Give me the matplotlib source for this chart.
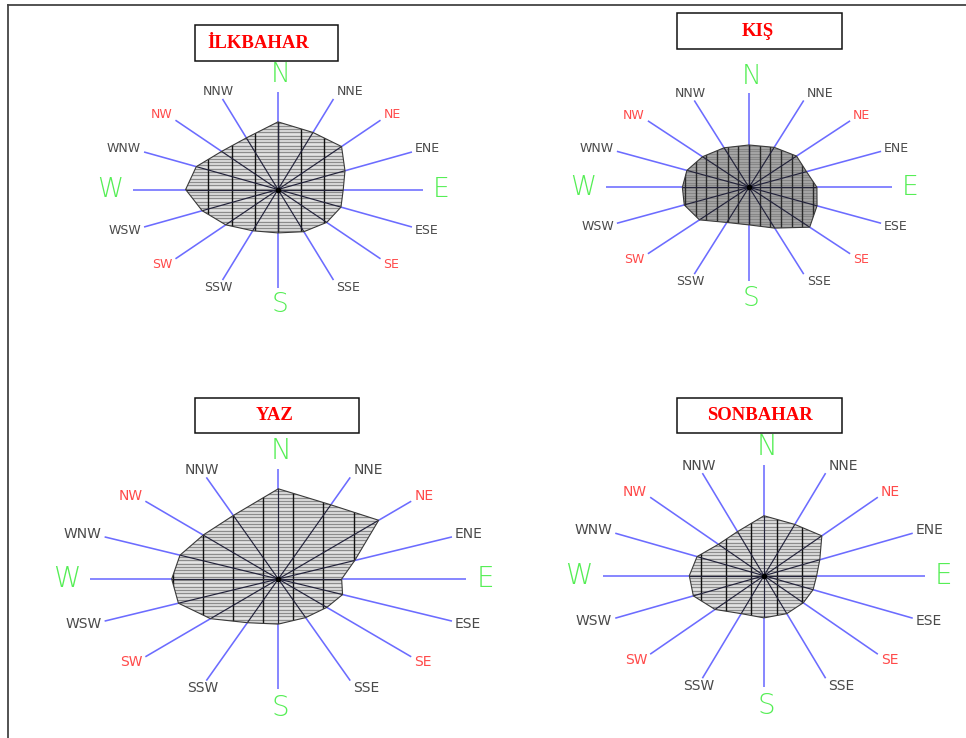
import numpy as np
import matplotlib.pyplot as plt
from matplotlib.patches import Polygon, Rectangle
from matplotlib.lines import Line2D

# 16 compass directions, clockwise from north
directions = ['N', 'NNE', 'NE', 'ENE', 'E', 'ESE', 'SE', 'SSE',
              'S', 'SSW', 'SW', 'WSW', 'W', 'WNW', 'NW', 'NNW']
seasons = ['İLKBAHAR', 'KIŞ', 'YAZ', 'SONBAHAR']

# relative wind frequency per direction (fraction of spoke length)
ilkbahar = [0.69, 0.63, 0.62, 0.50, 0.45, 0.47, 0.475, 0.466,
            0.443, 0.456, 0.51, 0.566, 0.637, 0.61, 0.55, 0.57]
kis = [0.45, 0.46, 0.47, 0.435, 0.475, 0.515, 0.60, 0.47,
       0.40, 0.405, 0.49, 0.49, 0.466, 0.47, 0.46, 0.455]
yaz = [0.82, 0.73, 0.755, 0.44, 0.337, 0.37, 0.365, 0.38,
       0.41, 0.43, 0.51, 0.575, 0.567, 0.566, 0.565, 0.625]
sonbahar = [0.54, 0.50, 0.508, 0.375, 0.327, 0.33, 0.345, 0.37,
            0.38, 0.37, 0.43, 0.475, 0.464, 0.45, 0.40, 0.43]

W, H = 966, 738
fig = plt.figure(figsize=(W / 100, H / 100), dpi=100)
fig.patch.set_facecolor('white')

cardinal = {'N', 'E', 'S', 'W'}
intercard = {'NE', 'SE', 'SW', 'NW'}

# panel layout in pixels: centre x, centre y (from top), x-scale, y-scale
panels = [
    dict(cx=278, cy=189.5, a=145, b=98, vstep=0.16, voff=0.0, hpx=3.3,
         face='#e4e4e4', hcol='#8c8c8c', hlw=0.95, vcol='#111111',
         small=9, big=19, box=(195, 25, 338, 61), tpos=(258, 43.5)),
    dict(cx=749, cy=187.3, a=143, b=94, vstep=0.0746, voff=0.0, hpx=2.6,
         face='#a9a9a9', hcol='#878787', hlw=0.9, vcol='#2a2a2a',
         small=9, big=19, box=(677, 13, 842, 49), tpos=(758, 31)),
    dict(cx=278.3, cy=579, a=188, b=110, vstep=0.16, voff=0.08, hpx=3.3,
         face='#e4e4e4', hcol='#8c8c8c', hlw=0.95, vcol='#111111',
         small=10, big=20, box=(195, 398, 359, 433), tpos=(275, 415)),
    dict(cx=764, cy=575.7, a=161, b=111, vstep=0.157, voff=0.0785, hpx=3.2,
         face='#e4e4e4', hcol='#8c8c8c', hlw=0.95, vcol='#111111',
         small=10, big=20, box=(677, 398, 842, 433), tpos=(760, 415)),
]
data = [ilkbahar, kis, yaz, sonbahar]

theta = np.deg2rad(np.arange(16) * 22.5)
ux = np.sin(theta)
uy = np.cos(theta)
L = 1.5


def draw_rose(p, radii, title):
    left = p['cx'] - L * p['a']
    bottom = (H - p['cy']) - L * p['b']
    ax = fig.add_axes([left / W, bottom / H, 2 * L * p['a'] / W, 2 * L * p['b'] / H])
    ax.set_xlim(-L, L)
    ax.set_ylim(-L, L)
    ax.axis('off')
    ax.patch.set_alpha(0)

    # blue spokes
    for i in range(16):
        ax.plot([0, ux[i]], [0, uy[i]], color='#6c6cff', lw=1.15, zorder=1,
                solid_capstyle='butt')

    r = np.array(radii)
    pts = np.column_stack([r * ux, r * uy])
    poly = Polygon(pts, closed=True, facecolor=p['face'], edgecolor='none', zorder=2)
    ax.add_patch(poly)

    # horizontal hatch lines
    hstep = p['hpx'] / p['b']
    ys = np.arange(-1, 1, hstep)
    hl = ax.hlines(ys, -1, 1, colors=p['hcol'], lw=p['hlw'], zorder=3)
    hl.set_clip_path(poly)

    # vertical lines, symmetric about the centre
    k = np.arange(0, int(1 / p['vstep']) + 1)
    xs = p['voff'] + k * p['vstep']
    xs = np.unique(np.round(np.concatenate([xs, -xs]), 4))
    vl = ax.vlines(xs, -1, 1, colors=p['vcol'], lw=1.0, zorder=4)
    vl.set_clip_path(poly)

    # spokes inside the polygon are dark
    for i in range(16):
        ln, = ax.plot([0, ux[i]], [0, uy[i]], color='#22223a', lw=0.85, zorder=5)
        ln.set_clip_path(poly)

    edge = Polygon(pts, closed=True, facecolor='none', edgecolor='#3a3a3a', lw=0.8, zorder=6)
    ax.add_patch(edge)
    ax.plot([0], [0], 'o', color='black', ms=3, zorder=7)

    # direction labels
    for i, d in enumerate(directions):
        if d in cardinal:
            col = '#55ee55'
            if d == 'N':
                off, ha, va = (3, 4), 'center', 'bottom'
            elif d == 'S':
                off, ha, va = (2, -5), 'center', 'top'
            elif d == 'E':
                off, ha, va = (10, 0), 'left', 'center'
            else:
                off, ha, va = (-10, 0), 'right', 'center'
            ax.annotate(d, (ux[i], uy[i]), xytext=(off[0] * 0.72, off[1] * 0.72),
                        textcoords='offset points', ha=ha, va=va, color=col,
                        fontsize=p['big'], fontweight='light', annotation_clip=False)
        else:
            col = '#ff4a4a' if d in intercard else '#4a4a4a'
            if ux[i] > 0.1:
                ha, dx = 'left', 3
            elif ux[i] < -0.5:
                ha, dx = 'right', -3
            else:
                ha, dx = 'center', -4
            dy = 8 * uy[i]
            ax.annotate(d, (ux[i], uy[i]), xytext=(dx * 0.72, dy * 0.72),
                        textcoords='offset points', ha=ha, va='center', color=col,
                        fontsize=p['small'], annotation_clip=False)

    # title box
    x0, y0, x1, y1 = p['box']
    fig.add_artist(Rectangle((x0 / W, 1 - y1 / H), (x1 - x0) / W, (y1 - y0) / H,
                             transform=fig.transFigure, fill=False, ec='#111111', lw=1.1))
    fig.text(p['tpos'][0] / W, 1 - p['tpos'][1] / H, title, ha='center', va='center',
             color='#ff0000', fontsize=13.5, fontweight='bold', family='Liberation Serif')


for p, radii, t in zip(panels, data, seasons):
    draw_rose(p, radii, t)

# page frame (left and top edges only)
fig.add_artist(Line2D([8 / W, 8 / W], [0, 1 - 5 / H], transform=fig.transFigure,
                      color='#444444', lw=1.3))
fig.add_artist(Line2D([8 / W, 1], [1 - 5 / H, 1 - 5 / H], transform=fig.transFigure,
                      color='#444444', lw=1.3))

fig.savefig('out.png', dpi=100)
